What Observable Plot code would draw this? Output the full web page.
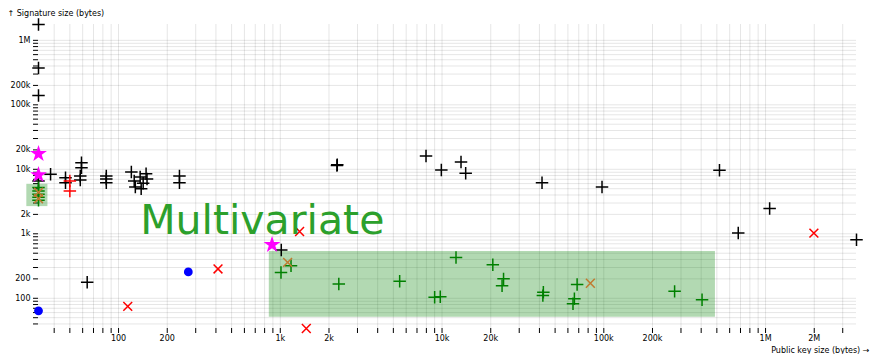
<!DOCTYPE html>
<html>
<head>
<meta charset="utf-8">
<script src="https://cdn.jsdelivr.net/npm/d3@7"></script>
<script src="https://cdn.jsdelivr.net/npm/@observablehq/plot@0.6"></script>
<style>
  html, body { margin: 0; padding: 0; background: #fff; }
</style>
</head>
<body>
<div id="chart"></div>
<script>
// [public key size, signature size] in bytes
const blackPlus = [
  [32, 1760000], [32, 372000], [32, 139000], [32, 6600],
  [38, 8400], [47, 7400], [47, 6200],
  [59, 12600], [59, 10600], [58, 7900], [58, 6800],
  [84, 7900], [84, 7100], [84, 6200],
  [120, 9100], [125, 6600], [127, 5300], [136, 7600], [142, 6100],
  [148, 8500], [150, 7100], [138, 5000],
  [238, 7900], [238, 6200], [64, 177], [1014, 560],
  [2240, 11500], [2250, 11800], [7960, 16100], [9900, 9750],
  [13100, 13000], [14000, 8700], [41500, 6200], [97500, 5300],
  [519000, 9700], [1060000, 2460], [678000, 1025], [3650000, 807]
];
const greenPlus = [
  [1165, 320], [1010, 252], [2300, 167], [5470, 183], [9000, 104], [9750, 106],
  [12200, 430], [20600, 332], [24000, 200], [23500, 157], [42300, 124], [42000, 110],
  [68400, 163], [65800, 98], [64500, 82], [274000, 128], [405000, 95],
  [32, 5200], [32, 4600], [32, 4100], [32, 3700], [32, 3300]
];
const brownTimes = [[1110, 360], [82600, 171], [32, 4400], [32, 3500]];
const redTimes = [[114, 75], [412, 285], [1316, 1085], [1448, 34], [1990000, 1025]];
const redPlus = [[50, 6600], [50, 4600]];
const blueDots = [[32, 64], [270, 256]];
const stars = [[32, 17400], [32, 8200], [889, 676]];

// shaded regions
const rectX1 = [855, 27.1];
const rectX2 = [490000, 36.6];
const rectY1 = [50.8, 2640];
const rectY2 = [532, 5860];

const labelText = ["Multivariate"];
const labelX = [136];
const labelY = [1000];

const xTitle = "Public key size (bytes) →";
const yTitle = "↑ Signature size (bytes)";

const xDomain = [32, 3650000];
const yDomain = [34, 1760000];

const fmt = d3.format("~s");
const tickFmt = d => {
  const e = Math.floor(Math.log10(d) + 1e-9);
  const m = d / Math.pow(10, e);
  return (Math.abs(m - 1) < 1e-6 || Math.abs(m - 2) < 1e-6) ? fmt(d) : "";
};

const rects = rectX1.map((x1, i) => ({x1, x2: rectX2[i], y1: rectY1[i], y2: rectY2[i]}));

const dotMark = (data, symbol, color, opts = {}) =>
  Plot.dot(data, {x: d => d[0], y: d => d[1], symbol, r: 4.1,
    ...(symbol === "circle" || symbol === "star" ? {fill: color, stroke: null} : {stroke: color}),
    ...opts});

const chart = Plot.plot({
  width: 872,
  height: 354,
  marginTop: 24,
  marginLeft: 38,
  marginRight: 16,
  marginBottom: 26,
  style: {fontFamily: "'DejaVu Sans', sans-serif", fontSize: "8px", background: "#fff"},
  x: {type: "log", domain: xDomain},
  y: {type: "log", domain: yDomain},
  marks: [
    Plot.gridX({strokeOpacity: 0.1}),
    Plot.gridY({strokeOpacity: 0.1}),
    Plot.axisX({tickFormat: tickFmt, tickSize: 5, tickPadding: 2, label: null}),
    Plot.axisY({tickFormat: tickFmt, tickSize: 5, tickPadding: 3, label: null}),
    Plot.text([yTitle], {frameAnchor: "top-left", dx: -31, dy: -11, textAnchor: "start", lineAnchor: "middle"}),
    Plot.text([xTitle], {frameAnchor: "bottom-right", dx: 13, dy: 22, textAnchor: "end", lineAnchor: "middle"}),
    Plot.rect(rects, {x1: "x1", x2: "x2", y1: "y1", y2: "y2", fill: "green", fillOpacity: 0.3}),
    dotMark(blackPlus, "plus", "black"),
    dotMark(greenPlus, "plus", "green"),
    dotMark(redPlus, "plus", "red"),
    dotMark(brownTimes, "times", "#c07a30"),
    dotMark(redTimes, "times", "red"),
    dotMark(blueDots, "circle", "blue", {r: 4.4}),
    dotMark(stars, "star", "magenta", {r: 5.3}),
    Plot.text(labelText, {x: (d, i) => labelX[i], y: (d, i) => labelY[i], text: d => d,
      textAnchor: "start", lineAnchor: "bottom", fontSize: 41, fill: "#2ca02c"})
  ]
});
document.getElementById("chart").appendChild(chart);
</script>
</body>
</html>
